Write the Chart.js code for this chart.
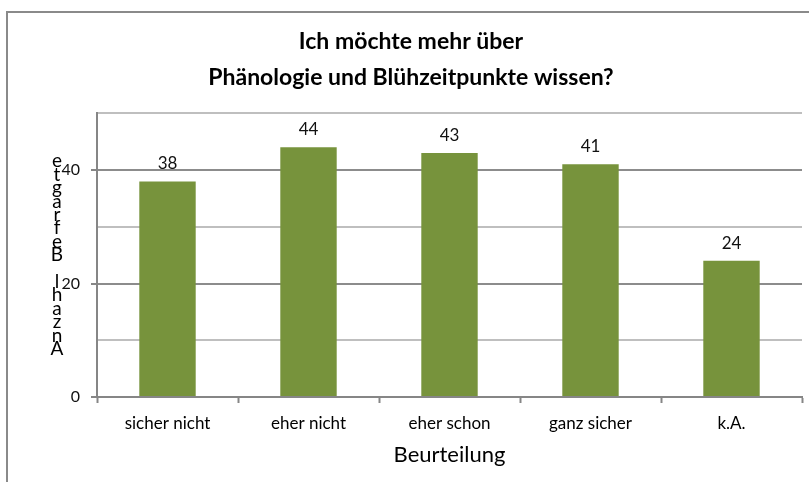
<!DOCTYPE html>
<html>
<head>
<meta charset="utf-8">
<script src="https://cdn.jsdelivr.net/npm/chart.js@4"></script>
<style>
  body { margin: 0; background: #fff; }
  #wrap { width: 809px; height: 482px; position: relative; }
</style>
</head>
<body>
<div id="wrap"><canvas id="myChart"></canvas></div>
<script>
const categories = ["sicher nicht", "eher nicht", "eher schon", "ganz sicher", "k.A."];
const counts = [38, 44, 43, 41, 24];
const titleLines = ["Ich möchte mehr über", "Phänologie und Blühzeitpunkte wissen?"];
const yTitle = "Anzahl Befragte";
const xTitle = "Beurteilung";

// frame round the whole chart, value labels and the odd stacked y title
const extras = {
  id: "extras",
  beforeDraw(chart) {
    const ctx = chart.ctx;
    ctx.save();
    ctx.fillStyle = "#fff";
    ctx.fillRect(0, 0, chart.width, chart.height);
    ctx.strokeStyle = "#8a8a8a";
    ctx.lineWidth = 2;
    ctx.strokeRect(7, 12, chart.width + 50, chart.height + 50);
    ctx.restore();
  },
  afterDatasetsDraw(chart) {
    const ctx = chart.ctx;
    ctx.save();
    ctx.font = "17px Lato";
    ctx.fillStyle = "#111";
    ctx.textAlign = "center";
    ctx.textBaseline = "bottom";
    chart.getDatasetMeta(0).data.forEach((bar, i) => {
      ctx.fillText(counts[i], bar.x, bar.y - 9);
    });
    ctx.restore();
  },
  afterDraw(chart) {
    const ctx = chart.ctx;
    const area = chart.chartArea;
    const chars = yTitle.split("").reverse();
    const step = 13.4;
    const mid = (area.top + area.bottom) / 2;
    ctx.save();
    ctx.font = "19px Lato";
    ctx.fillStyle = "#000";
    ctx.textAlign = "center";
    ctx.textBaseline = "middle";
    chars.forEach((c, i) => {
      const y = mid + (i - (chars.length - 1) / 2) * step;
      ctx.fillText(c, area.left - 40, y);
    });
    ctx.restore();
  },
};

const ctx = document.getElementById("myChart");
new Chart(ctx, {
  type: "bar",
  data: {
    labels: categories,
    datasets: [
      {
        data: counts,
        backgroundColor: "#77933C",
        categoryPercentage: 1,
        barPercentage: 0.4,
      },
    ],
  },
  options: {
    responsive: true,
    maintainAspectRatio: false,
    animation: false,
    layout: { padding: { left: 20, right: 7, top: 0, bottom: 0 } },
    plugins: {
      legend: { display: false },
      tooltip: { enabled: false },
      title: {
        display: true,
        text: titleLines,
        color: "#000",
        font: { family: "Lato", size: 23, weight: "bold", lineHeight: 1.55 },
        padding: { top: 24, bottom: 18 },
      },
    },
    scales: {
      x: {
        afterFit(scale) {
          scale.height = 85;
        },
        grid: {
          offset: true,
          drawOnChartArea: false,
          drawTicks: true,
          tickLength: 6,
          tickColor: "#868686",
          tickWidth: 2,
        },
        border: { color: "#868686", width: 2 },
        ticks: {
          color: "#000",
          padding: 10,
          font: { family: "Lato", size: 17 },
          maxRotation: 0,
        },
        title: {
          display: true,
          text: xTitle,
          color: "#000",
          font: { family: "Lato", size: 22 },
          padding: { top: 0, bottom: 14 },
        },
      },
      y: {
        min: 0,
        max: 50,
        afterFit(scale) {
          scale.width = 77;
        },
        grid: {
          color: (c) => (c.tick && c.tick.value % 20 === 0 ? "#8c8c8c" : "#bfbfbf"),
          lineWidth: 2,
          tickLength: 6,
          tickColor: (c) => (c.tick && c.tick.value % 20 === 0 ? "#868686" : "rgba(0,0,0,0)"),
        },
        border: { color: "#868686", width: 2 },
        ticks: {
          stepSize: 10,
          padding: 11,
          color: "#111",
          font: { family: "Lato", size: 16 },
          callback: (v) => (v % 20 === 0 ? v : ""),
        },
      },
    },
  },
  plugins: [extras],
});
</script>
</body>
</html>
